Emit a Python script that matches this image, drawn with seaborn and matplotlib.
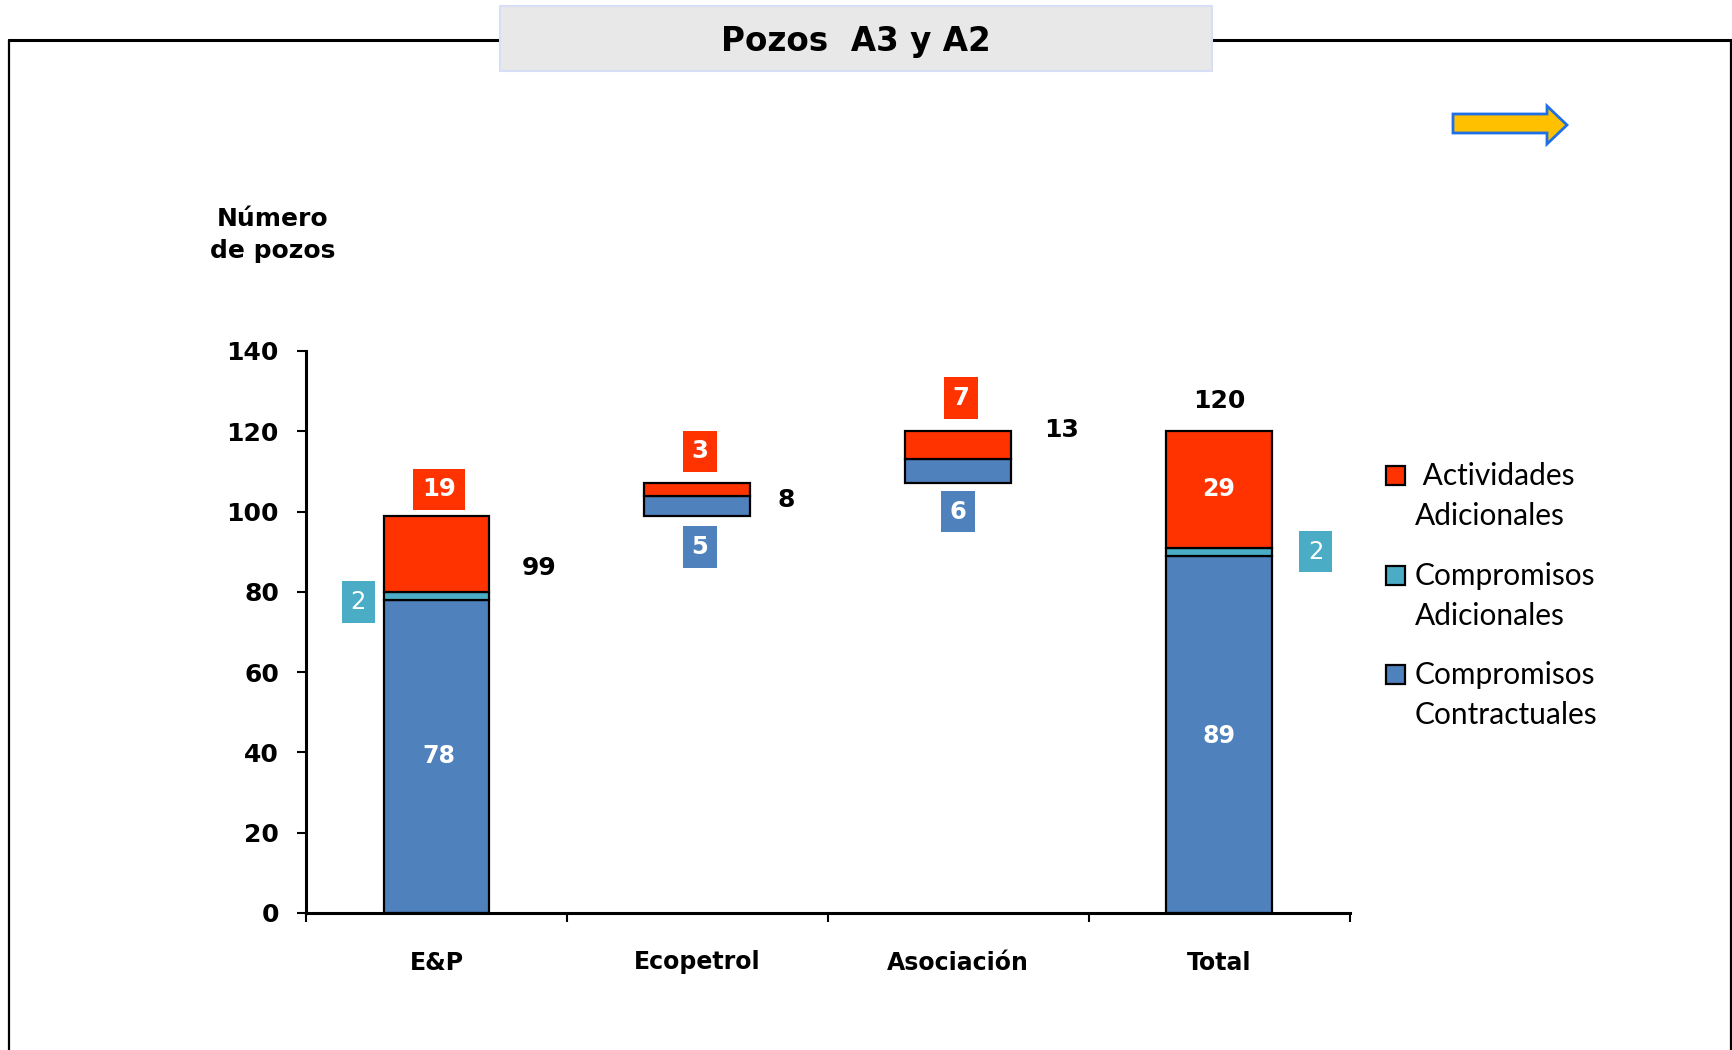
import numpy as np
import pandas as pd
import matplotlib
matplotlib.use("Agg")
import matplotlib.pyplot as plt
import seaborn as sns
from matplotlib.patches import Rectangle, Polygon
from matplotlib.lines import Line2D

# ---------------- data ----------------
categories = ["E&P", "Ecopetrol", "Asociación", "Total"]
contractuales = [78, 5, 6, 89]
comp_adicionales = [2, 0, 0, 2]
act_adicionales = [19, 3, 7, 29]
y_ticks = [0, 20, 40, 60, 80, 100, 120, 140]
legend_labels = [" Actividades\nAdicionales", "Compromisos\nAdicionales", "Compromisos\nContractuales"]
title = "Pozos  A3 y A2"
ylabel = "Número\nde pozos"

# ---------------- derived ----------------
totals = [a + b + c for a, b, c in zip(contractuales, comp_adicionales, act_adicionales)]
# waterfall: middle categories float on the running total
base = [0, totals[0], totals[0] + totals[1], 0]
df = pd.DataFrame({
    "categoria": categories,
    "contractuales": contractuales,
    "comp": comp_adicionales,
    "act": act_adicionales,
    "base": base,
})
df["b_comp"] = df["base"] + df["contractuales"]
df["b_act"] = df["b_comp"] + df["comp"]
df["top"] = df["b_act"] + df["act"]

BLUE = "#4F81BD"
TEAL = "#4BACC6"
RED = "#FF3300"

sns.set_style("white")
plt.rcParams["font.family"] = ["DejaVu Sans"]
plt.rcParams["text.color"] = "black"
plt.rcParams["xtick.color"] = "black"
plt.rcParams["ytick.color"] = "black"
plt.rcParams["axes.labelcolor"] = "black"

W, H = 1733, 1050
fig = plt.figure(figsize=(W / 100, H / 100), dpi=100)
fig.patch.set_facecolor("white")


def fx(x):
    return x / W


def fy(y):
    return 1 - y / H


ax = fig.add_axes([fx(306), fy(913), fx(1349.5) - fx(306), fy(351) - fy(913)])

segments = [("contractuales", "base", BLUE), ("comp", "b_comp", TEAL), ("act", "b_act", RED)]
for col, bcol, color in segments:
    sub = df[df[col] > 0]
    sns.barplot(data=sub, x="categoria", y=col, order=categories, color=color,
                saturation=1, edgecolor="black", linewidth=1.6, width=0.405,
                bottom=sub[bcol].values, errorbar=None, ax=ax)

ax.set_xlim(-0.5, 3.5)
ax.set_ylim(0, 140)
ax.set_xlabel("")
ax.set_ylabel("")
for s in ["top", "right"]:
    ax.spines[s].set_visible(False)
for s in ["left", "bottom"]:
    ax.spines[s].set_linewidth(2.2)
    ax.spines[s].set_color("black")

ax.set_yticks(y_ticks)
ax.set_yticklabels([str(v) for v in y_ticks], fontsize=18, fontweight="bold", color="black")
ax.tick_params(axis="y", direction="out", length=6.5, width=1.5, pad=13, left=True,
               colors="black")
ax.set_xticks(range(len(categories)))
ax.set_xticklabels(categories, fontsize=17, fontweight="bold", color="black")
ax.tick_params(axis="x", which="major", length=0, pad=27, colors="black")
ax.set_xticks(np.arange(-0.5, len(categories), 1.0), minor=True)
ax.tick_params(axis="x", which="minor", direction="out", length=6.5, width=1.5, bottom=True,
               colors="black")
ax.grid(False)

# ---------------- labels ----------------
def boxed(x, y, s, fc, bold=True):
    ax.text(x, y, s, ha="center", va="center", fontsize=17.5,
            fontweight="bold" if bold else "normal", color="white",
            bbox=dict(boxstyle="square,pad=0.36", fc=fc, ec="none"), zorder=5)


# E&P
boxed(0.01, df.loc[0, "top"] + 6.5, str(act_adicionales[0]), RED)
boxed(-0.30, df.loc[0, "b_comp"] - 0.5, str(comp_adicionales[0]), TEAL, bold=False)
ax.text(0.01, contractuales[0] / 2, str(contractuales[0]), ha="center", va="center",
        fontsize=17, fontweight="bold", color="white")
ax.text(0.395, 86, str(totals[0]), ha="center", va="center", fontsize=18, fontweight="bold")

# Ecopetrol
boxed(1.01, df.loc[1, "top"] + 8, str(act_adicionales[1]), RED)
boxed(1.01, df.loc[1, "base"] - 7.8, str(contractuales[1]), BLUE)
ax.text(1.34, (df.loc[1, "base"] + df.loc[1, "top"]) / 2, str(totals[1]), ha="center",
        va="center", fontsize=18, fontweight="bold")

# Asociación
boxed(2.01, df.loc[2, "top"] + 8.3, str(act_adicionales[2]), RED)
boxed(2.0, df.loc[2, "base"] - 7, str(contractuales[2]), BLUE)
ax.text(2.395, df.loc[2, "top"] + 0.3, str(totals[2]), ha="center", va="center",
        fontsize=18, fontweight="bold")

# Total
ax.text(3.0, df.loc[3, "b_act"] + act_adicionales[3] / 2, str(act_adicionales[3]),
        ha="center", va="center", fontsize=17, fontweight="bold", color="white")
ax.text(3.0, 44, str(contractuales[3]), ha="center", va="center", fontsize=17,
        fontweight="bold", color="white")
boxed(3.37, df.loc[3, "b_comp"] + 1, str(comp_adicionales[3]), TEAL, bold=False)
ax.text(3.0, df.loc[3, "top"] + 7.5, str(totals[3]), ha="center", va="center",
        fontsize=18, fontweight="bold")

# y label
fig.text(fx(273), fy(235), ylabel, ha="center", va="center", fontsize=18,
         fontweight="bold", linespacing=1.45)

# ---------------- legend (manual) ----------------
leg_colors = [RED, TEAL, BLUE]
leg_first_line_y = [475, 575, 674]
for lab, col, y in zip(legend_labels, leg_colors, leg_first_line_y):
    fig.add_artist(Rectangle((fx(1386), fy(y + 10)), fx(19), 19 / H, transform=fig.transFigure,
                             fc=col, ec="black", lw=1.6))
    fig.text(fx(1415), fy(y + 21), lab, ha="left", va="center", fontsize=21.5,
             family=["Lato", "DejaVu Sans"], linespacing=1.55)

# ---------------- frame, title box, arrow ----------------
fig.add_artist(Line2D([fx(9), fx(1731)], [fy(40), fy(40)], transform=fig.transFigure,
                      color="black", lw=2.2))
fig.add_artist(Line2D([fx(9), fx(9)], [fy(40), fy(1052)], transform=fig.transFigure,
                      color="black", lw=1.6))
fig.add_artist(Line2D([fx(1731), fx(1731)], [fy(40), fy(1052)], transform=fig.transFigure,
                      color="black", lw=1.6))
fig.add_artist(Rectangle((fx(500), fy(71)), fx(712), 65 / H, transform=fig.transFigure,
                         fc="#E8E8E8", ec="#D6DFF5", lw=1.5, zorder=3))
fig.text(fx(856), fy(41), title, ha="center", va="center", fontsize=23.5,
         fontweight="bold", zorder=4)

arrow_pts = [(1453, 114), (1547, 114), (1547, 106), (1567, 125), (1547, 144),
             (1547, 133), (1453, 133)]
fig.add_artist(Polygon([(fx(x), fy(y)) for x, y in arrow_pts], closed=True,
                       transform=fig.transFigure, fc="#FFC000", ec="#1F6FE6", lw=2))

fig.savefig("out.png", dpi=100)
